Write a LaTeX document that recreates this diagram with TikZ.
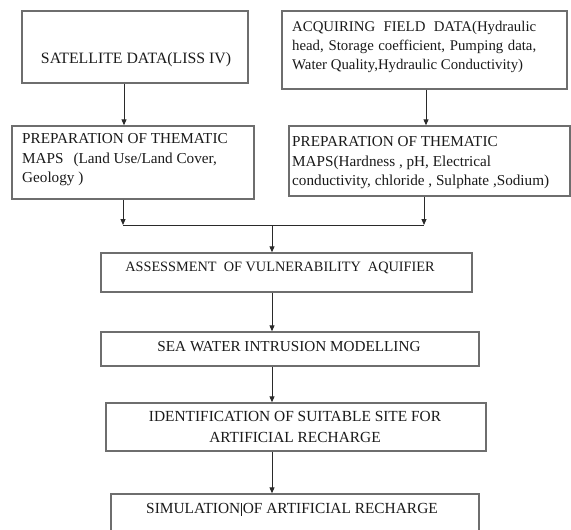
\documentclass[tikz,border=0pt]{standalone}
\usepackage{fontspec}
\setmainfont{Liberation Serif}
\usetikzlibrary{fit,arrows.meta}
\definecolor{boxline}{HTML}{6E6E6E}
\definecolor{ink}{HTML}{1A1A1A}
\definecolor{arrowc}{HTML}{2A2A2A}
\tikzset{
  box/.style={draw=boxline, line width=1.4pt, inner sep=0pt, fill=white},
  txt/.style={text=ink, inner sep=0pt, font=\fontsize{15.2}{19.5}\selectfont},
  conn/.style={draw=arrowc, line width=1pt},
  arr/.style={conn, -{Triangle[length=6pt,width=5pt]}},
}
\begin{document}
\begin{tikzpicture}[x=1pt,y=-1pt]
\useasboundingbox (0,0) rectangle (571,530);
\clip (0,0) rectangle (571,530);
\fill[white] (0,0) rectangle (571,530);
% boxes
\node[box, fit={(22,11) (248,83)}] (b1) {};
\node[box, fit={(282,11) (567,89)}] (b2) {};
\node[box, fit={(12,126) (254,199)}] (b3) {};
\node[box, fit={(289,126) (570,196)}] (b4) {};
\node[box, fit={(101,253) (472,292)}] (b5) {};
\node[box, fit={(101,332) (479,366)}] (b6) {};
\node[box, fit={(106,403) (486,451)}] (b7) {};
\node[box, fit={(111,494) (479,548)}] (b8) {};
% texts
\node[txt, font=\fontsize{15.8}{19.5}\selectfont] (t1) at (136,60) {SATELLITE DATA(LISS IV)};
\node[txt, anchor=west, align=left, font=\fontsize{14.8}{19}\selectfont] (t2) at (292,47) {\makebox[244pt][s]{ACQUIRING FIELD DATA(Hydraulic}\\\makebox[244pt][s]{head, Storage coefficient, Pumping data,}\\Water Quality,Hydraulic Conductivity)};
\node[txt, anchor=west, align=left] (t3) at (22,160) {PREPARATION OF THEMATIC\\MAPS\hspace{10pt}(Land Use/Land Cover,\\Geology )};
\node[txt, anchor=west, align=left] (t4) at (292,163) {PREPARATION OF THEMATIC\\MAPS(Hardness , pH, Electrical\\conductivity, chloride , Sulphate ,Sodium)};
\node[txt, font=\fontsize{14.3}{19.5}\selectfont] (t5) at (280,268) {ASSESSMENT\ \ OF VULNERABILITY\ \ AQUIFIER};
\node[txt] (t6) at (289,347) {SEA WATER INTRUSION MODELLING};
\node[txt, align=center, font=\fontsize{15.4}{21}\selectfont] (t7) at (295,427) {IDENTIFICATION OF SUITABLE SITE FOR\\ARTIFICIAL RECHARGE};
\node[txt, font=\fontsize{15.4}{19.5}\selectfont] (t8) at (292,509) {SIMULATION\hspace{0.6pt}\rule[-2pt]{1.3pt}{13pt}\hspace{0.6pt}OF ARTIFICIAL RECHARGE};
% connectors
\coordinate (jl) at (123,225);
\coordinate (jr) at (424,225);
\coordinate (jm) at (272,225);
\draw[arr] (b1.south -| 124,0) -- (b3.north -| 124,0);
\draw[arr] (b2.south -| 426,0) -- (b4.north -| 426,0);
\draw[arr] (b3.south -| jl) -- (jl);
\draw[arr] (b4.south -| jr) -- (jr);
\draw[conn] (jl) -- (jr);
\draw[arr] (jm) -- (b5.north -| jm);
\draw[arr] (b5.south -| jm) -- (b6.north -| jm);
\draw[arr] (b6.south -| jm) -- (b7.north -| jm);
\draw[arr] (b7.south -| jm) -- (b8.north -| jm);
\end{tikzpicture}
\end{document}
